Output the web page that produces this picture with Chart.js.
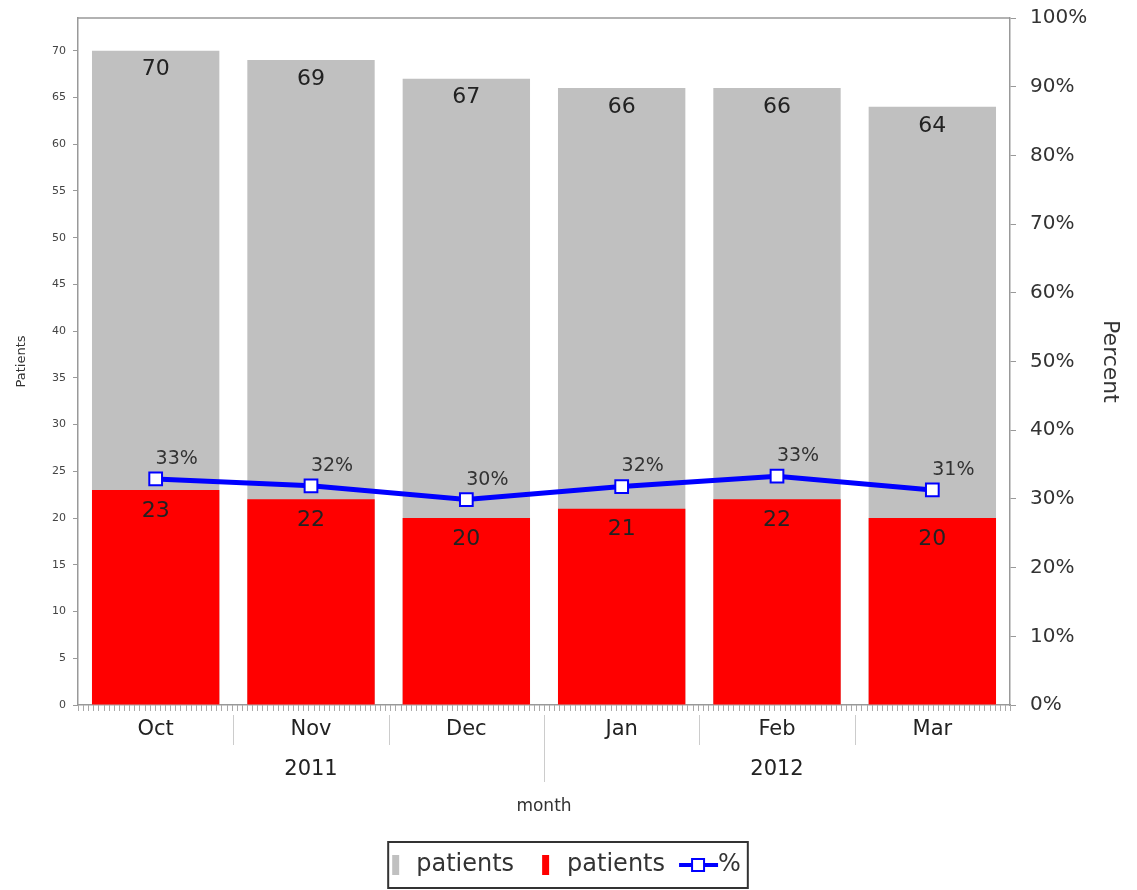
<!DOCTYPE html>
<html>
<head>
<meta charset="utf-8">
<script src="https://cdn.jsdelivr.net/npm/chart.js@4"></script>
<style>
  html, body { margin: 0; padding: 0; background: #fff; }
</style>
</head>
<body>
<canvas id="chart" width="1137" height="890"></canvas>
<script>
const months = ['Oct', 'Nov', 'Dec', 'Jan', 'Feb', 'Mar'];
const years = ['', '2011', '', '', '2012', ''];
const totalPatients = [70, 69, 67, 66, 66, 64];
const metPatients = [23, 22, 20, 21, 22, 20];
const percentMet = [32.9, 31.9, 29.9, 31.8, 33.3, 31.3];
const percentLabels = ['33%', '32%', '30%', '32%', '33%', '31%'];

const fam = "'DejaVu Sans', sans-serif";
Chart.defaults.font.family = fam;

// little canvases used as legend icons
function icon(w, h, draw) {
  const c = document.createElement('canvas');
  c.width = w; c.height = h;
  draw(c.getContext('2d'));
  return c;
}
const grayIcon = icon(20, 30, g => { g.fillStyle = '#c0c0c0'; g.fillRect(2, 5, 7, 20); });
const redIcon = icon(20, 30, g => { g.fillStyle = '#ff0000'; g.fillRect(1, 5, 7, 20); });
const lineIcon = icon(54, 30, g => {
  g.strokeStyle = '#0000ff'; g.lineWidth = 4;
  g.beginPath(); g.moveTo(4, 15); g.lineTo(43, 15); g.stroke();
  g.fillStyle = '#fff'; g.lineWidth = 2;
  g.fillRect(17, 9, 12, 12); g.strokeRect(17, 9, 12, 12);
});

// keep the plot frame where the picture has it
function fixWidth(w) {
  return s => { s.width = w; s.paddingTop = 0; s.paddingBottom = 0; };
}

const extras = {
  id: 'extras',
  beforeDatasetsDraw(chart) {
    const {ctx, chartArea: a} = chart;
    const x = chart.scales.x;
    ctx.save();
    // top frame line
    ctx.strokeStyle = '#999'; ctx.lineWidth = 1.5;
    ctx.beginPath(); ctx.moveTo(a.left, a.top); ctx.lineTo(a.right, a.top); ctx.stroke();
    // minor ticks along the month axis
    ctx.strokeStyle = '#aaa'; ctx.lineWidth = 1;
    const step = (a.right - a.left) / 182;
    ctx.beginPath();
    for (let px = a.left; px <= a.right; px += step) {
      ctx.moveTo(Math.round(px) + 0.5, a.bottom); ctx.lineTo(Math.round(px) + 0.5, a.bottom + 6);
    }
    ctx.stroke();
    // separators between months / years
    ctx.strokeStyle = '#ccc';
    for (let i = 0; i < months.length - 1; i++) {
      const sx = Math.round((x.getPixelForValue(i) + x.getPixelForValue(i + 1)) / 2) + 0.5;
      ctx.beginPath();
      ctx.moveTo(sx, a.bottom + 10);
      ctx.lineTo(sx, i === 2 ? a.bottom + 77 : a.bottom + 40);
      ctx.stroke();
    }
    ctx.restore();
  },
  afterDatasetsDraw(chart) {
    const {ctx} = chart;
    ctx.save();
    ctx.textAlign = 'center'; ctx.textBaseline = 'middle';
    ctx.fillStyle = '#222';
    ctx.font = '22px ' + fam;
    chart.getDatasetMeta(0).data.forEach((b, i) => ctx.fillText(totalPatients[i], b.x, b.y + 19));
    chart.getDatasetMeta(1).data.forEach((b, i) => ctx.fillText(metPatients[i], b.x, b.y + 21));
    ctx.fillStyle = '#333';
    ctx.font = '19px ' + fam;
    chart.getDatasetMeta(2).data.forEach((p, i) => ctx.fillText(percentLabels[i], p.x + 21, p.y - 20));
    ctx.restore();
  },
  afterDraw(chart) {
    const boxes = chart.legend.legendHitBoxes;
    if (!boxes || !boxes.length) return;
    const {ctx} = chart;
    const first = boxes[0], last = boxes[boxes.length - 1];
    ctx.save();
    ctx.strokeStyle = '#333'; ctx.lineWidth = 2;
    ctx.strokeRect(first.left - 8, first.top - 11, last.left + last.width + 15 - first.left, 46);
    ctx.restore();
  }
};

new Chart(document.getElementById('chart'), {
  data: {
    labels: months.map((m, i) => [m, years[i]]),
    datasets: [
      {
        type: 'bar', label: 'patients', data: totalPatients,
        backgroundColor: '#c0c0c0', grouped: false, order: 2,
        barPercentage: 0.82, categoryPercentage: 1, yAxisID: 'y'
      },
      {
        type: 'bar', label: 'patients', data: metPatients,
        backgroundColor: '#ff0000', grouped: false, order: 1,
        barPercentage: 0.82, categoryPercentage: 1, yAxisID: 'y'
      },
      {
        type: 'line', label: '%', data: percentMet,
        borderColor: '#0000ff', borderWidth: 5, order: 0,
        pointStyle: 'rect', pointRadius: 9, pointBorderWidth: 2,
        pointBackgroundColor: '#fff', pointBorderColor: '#0000ff',
        yAxisID: 'y1'
      }
    ]
  },
  options: {
    responsive: false,
    animation: false,
    layout: { padding: { top: 18, bottom: 3, left: 0, right: 0 } },
    scales: {
      x: {
        ticks: { font: { size: 21, lineHeight: 1.9 }, color: '#222', padding: 5, autoSkip: false, maxRotation: 0 },
        grid: { display: false, drawTicks: false },
        border: { display: true, color: '#999', width: 1.5 },
        title: { display: true, text: 'month', font: { size: 17 }, color: '#333', padding: { top: 0, bottom: 3 } },
        afterFit: s => { s.height = 115; }
      },
      y: {
        position: 'left', min: 0, max: 73.5,
        ticks: { stepSize: 5, includeBounds: false, font: { size: 11 }, color: '#444', padding: 7 },
        grid: { drawOnChartArea: false, tickLength: 5, color: '#999' },
        border: { display: true, color: '#999', width: 1.5 },
        title: { display: true, text: 'Patients', font: { size: 13 }, color: '#333', padding: { top: 14 } },
        afterFit: fixWidth(78)
      },
      y1: {
        position: 'right', min: 0, max: 100,
        ticks: { stepSize: 10, callback: v => v + '%', font: { size: 20 }, color: '#333', padding: 14 },
        grid: { drawOnChartArea: false, tickLength: 6, color: '#999' },
        border: { display: true, color: '#999', width: 1.5 },
        title: { display: true, text: 'Percent', font: { size: 22 }, color: '#333', padding: { top: 14 } },
        afterFit: fixWidth(127)
      }
    },
    plugins: {
      tooltip: { enabled: false },
      legend: {
        position: 'bottom',
        labels: {
          usePointStyle: true, boxWidth: 8, padding: 33,
          font: { size: 24 }, color: '#333',
          generateLabels: () => [
            { text: 'patients', pointStyle: grayIcon, fontColor: '#333', lineWidth: 0, datasetIndex: 0 },
            { text: 'patients', pointStyle: redIcon, fontColor: '#333', lineWidth: 0, datasetIndex: 1 },
            { text: '%', pointStyle: lineIcon, fontColor: '#333', lineWidth: 0, datasetIndex: 2 }
          ]
        }
      }
    }
  },
  plugins: [extras]
});
</script>
</body>
</html>
